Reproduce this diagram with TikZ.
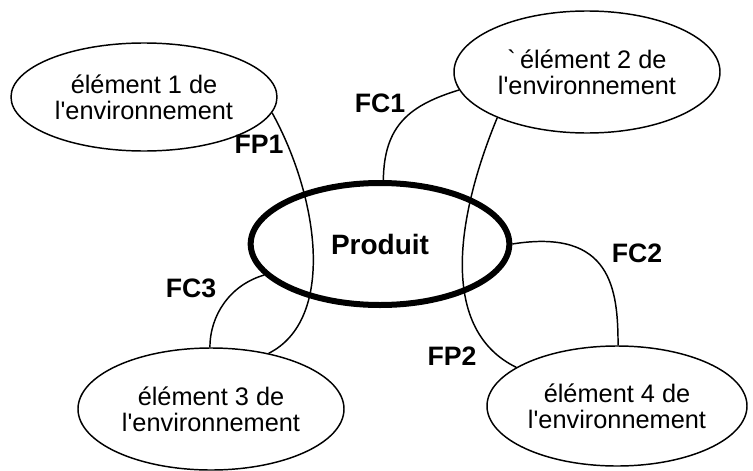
\documentclass[tikz,border=0pt]{standalone}
\usepackage{fontspec}
\setmainfont{Liberation Sans}[Ligatures=TeXOff]
\usetikzlibrary{shapes.geometric}
\begin{document}
\begin{tikzpicture}[x=0.75pt,y=-0.75pt,
  envbox/.style={ellipse, draw, line width=1.1pt, inner sep=0pt, align=center,
    minimum width=199.5pt, font=\fontsize{19}{19.5}\selectfont},
  prodbox/.style={ellipse, draw, line width=4.5pt, inner sep=0pt,
    font=\fontsize{21}{21}\selectfont\bfseries},
  link/.style={line width=1.1pt},
  lab/.style={font=\fontsize{20}{20}\selectfont\bfseries, inner sep=0pt}]
\useasboundingbox (0,0) rectangle (753,471);
\node[envbox, minimum height=81pt] (e1) at (144,97) {élément 1 de\\l'environnement};
\node[envbox, minimum height=91.5pt] (e2) at (587,72) {`\,élément 2 de\\l'environnement};
\node[envbox, minimum height=91.5pt] (e3) at (211,409) {élément 3 de\\l'environnement};
\node[envbox, minimum width=195pt, minimum height=90pt] (e4) at (617,406) {élément 4 de\\l'environnement};
\node[prodbox, minimum width=194pt, minimum height=91.5pt] (prod) at (380,244) {Produit};
\node[lab] (fc1) at (380,103) {FC1};
\node[lab] (fp1) at (259,144) {FP1};
\node[lab] (fc2) at (637,253) {FC2};
\node[lab] (fc3) at (191,288) {FC3};
\node[lab] (fp2) at (452,356) {FP2};
\draw[link] (prod.87) .. controls (384,125) and (410,105) .. (e2.188);
\draw[link] (e1.353) .. controls (320,200) and (335,320) .. (e3.44);
\draw[link] (e2.207) .. controls (455,220) and (440,330) .. (e4.159);
\draw[link] (prod.0) .. controls (612,228) and (618,290) .. (e4.89);
\draw[link] (prod.195) .. controls (230,285) and (210,315) .. (e3.91);
\end{tikzpicture}
\end{document}
